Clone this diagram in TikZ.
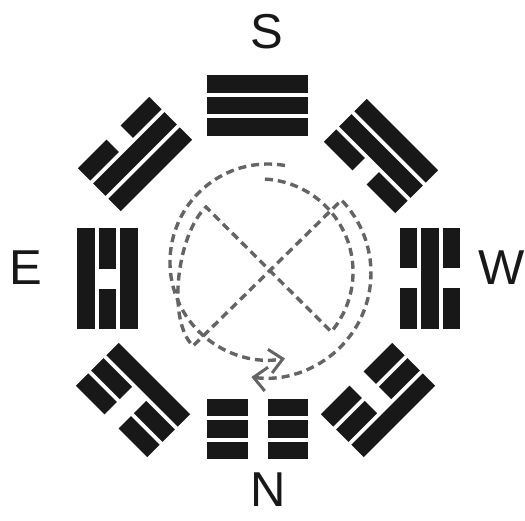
\documentclass[tikz,border=0pt]{standalone}
\usepackage{fontspec}
\setmainfont{Liberation Sans}
\usetikzlibrary{arrows.meta}
\definecolor{ink}{RGB}{24,24,24}
\definecolor{dashgray}{RGB}{100,100,100}
% one line of a trigram: offset, 1 = solid / 0 = broken
\newcommand{\yao}[2]{%
  \ifnum#2=1
    \fill[bar] (-50.5,#1-8.75) rectangle (50.5,#1+8.75);
  \else
    \fill[bar] (-50.5,#1-8.75) rectangle (-10,#1+8.75);
    \fill[bar] (10,#1-8.75) rectangle (50.5,#1+8.75);
  \fi}
% trigram: centre, rotation, lines from inner to outer
\newcommand{\gua}[5]{%
  \begin{scope}[shift={(#1)},rotate=#2]
    \yao{21.5}{#3}\yao{0}{#4}\yao{-21.5}{#5}
  \end{scope}}
\tikzset{
  bar/.style={fill=ink},
  compass/.style={inner sep=0pt,text=ink,font=\fontsize{49}{50}\selectfont},
  trail/.style={draw=dashgray,line width=3.4pt,dash pattern=on 8pt off 5pt},
  turn/.style={trail,-{Straight Barb[length=13pt,width=24pt,line width=3pt]}}
}
\begin{document}
\begin{tikzpicture}[x=1pt,y=-1pt]
\useasboundingbox (0,0) rectangle (525,520);
\node[compass] (south) at (267,32) {S};
\node[compass] (north) at (268,490) {N};
\node[compass] (east) at (26,268) {E};
\node[compass] (west) at (502,268) {W};
\gua{257.5,105.5}{0}{1}{1}{1}
\gua{135,154}{45}{1}{1}{0}
\gua{107.5,278.5}{90}{1}{0}{1}
\gua{133,400}{135}{1}{0}{0}
\gua{257.5,429}{180}{0}{0}{0}
\gua{378,400}{225}{0}{0}{1}
\gua{430,278}{270}{0}{1}{0}
\gua{381,156}{315}{0}{1}{1}
\coordinate (lstart) at (285,165.5);
\coordinate (rstart) at (264.9,179.1);
\coordinate (tl) at (206,207);
\coordinate (bl) at (193,346);
\coordinate (tr) at (341.5,200.1);
\draw[turn] (lstart) arc[start angle=-80,end angle=-280,radius=98];
\draw[turn] (rstart) arc[start angle=-87,end angle=40,radius=93] -- (tl)
  .. controls (178,233) and (166,319) .. (bl) -- (tr)
  arc[start angle=-44,end angle=98,radius=105];
\end{tikzpicture}
\end{document}
